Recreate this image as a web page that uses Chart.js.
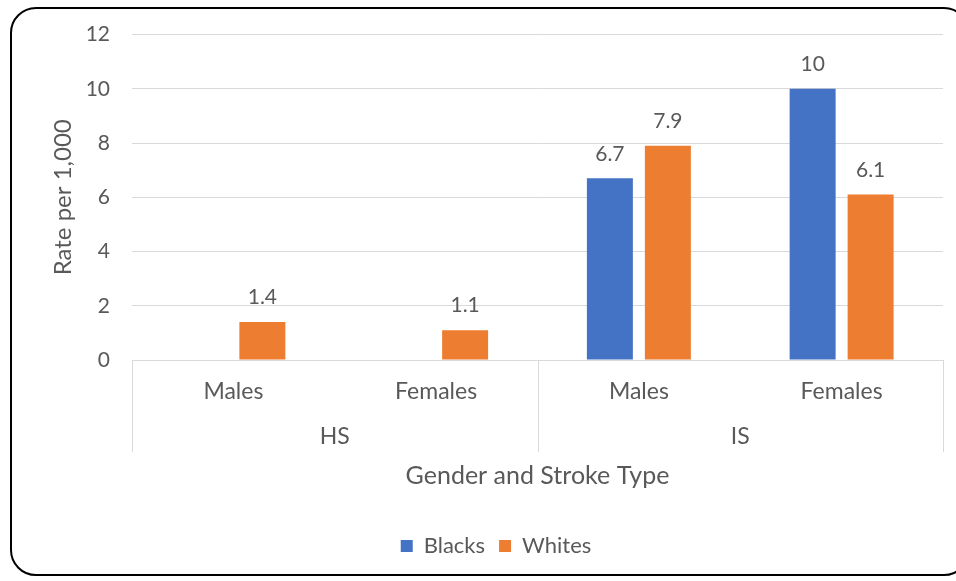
<!DOCTYPE html>
<html>
<head>
<meta charset="utf-8">
<script src="https://cdn.jsdelivr.net/npm/chart.js@4.4.1/dist/chart.umd.min.js"></script>
<style>
    html, body { margin: 0; padding: 0; background: #fff; }
    #frame {
        position: absolute; left: 10px; top: 7px; width: 960px; height: 569px;
        border: 2px solid #000; border-radius: 26px; box-sizing: border-box;
    }
    #wrap { position: absolute; left: 0; top: 0; width: 956px; height: 581px; }
</style>
</head>
<body>
<div id="frame"></div>
<div id="wrap"><canvas id="chart" width="956" height="581"></canvas></div>
<script>
// Chart data
const categories = ['Males', 'Females', 'Males', 'Females'];
const groups = ['HS', 'IS'];
const blacks = [null, null, 6.7, 10];
const whites = [1.4, 1.1, 7.9, 6.1];
const yTicks = [0, 2, 4, 6, 8, 10, 12];

const textColor = '#595959';
const fontFamily = 'Lato, "Liberation Sans", sans-serif';

// Draws value labels above bars
const barLabels = {
    id: 'barLabels',
    afterDatasetsDraw(chart) {
        const ctx = chart.ctx;
        ctx.save();
        ctx.font = `21px ${fontFamily}`;
        ctx.fillStyle = textColor;
        ctx.textAlign = 'center';
        ctx.textBaseline = 'bottom';
        chart.data.datasets.forEach((ds, i) => {
            chart.getDatasetMeta(i).data.forEach((bar, j) => {
                const v = ds.data[j];
                if (v === null || v === undefined) return;
                ctx.fillText(String(v), bar.x, bar.y - 14);
            });
        });
        ctx.restore();
    }
};

// Multi-level category axis: separators and group names
const groupAxis = {
    id: 'groupAxis',
    afterDraw(chart) {
        const ctx = chart.ctx;
        const x = chart.scales.x;
        const area = chart.chartArea;
        const per = categories.length / groups.length;
        const step = (x.right - x.left) / categories.length;
        ctx.save();
        ctx.strokeStyle = '#d9d9d9';
        ctx.lineWidth = 1;
        for (let g = 0; g <= groups.length; g++) {
            const px = Math.round(x.left + g * per * step) + 0.5;
            ctx.beginPath();
            ctx.moveTo(px, area.bottom);
            ctx.lineTo(px, area.bottom + 92);
            ctx.stroke();
        }
        ctx.font = `23px ${fontFamily}`;
        ctx.fillStyle = textColor;
        ctx.textAlign = 'center';
        ctx.textBaseline = 'middle';
        groups.forEach((name, g) => {
            const cx = x.left + (g + 0.5) * per * step;
            ctx.fillText(name, cx, area.bottom + 77);
        });
        ctx.restore();
    }
};

new Chart(document.getElementById('chart'), {
    type: 'bar',
    data: {
        labels: categories,
        datasets: [
            { label: 'Blacks', data: blacks, backgroundColor: '#4472C4' },
            { label: 'Whites', data: whites, backgroundColor: '#ED7D31' }
        ]
    },
    options: {
        responsive: false,
        animation: false,
        devicePixelRatio: 1,
        categoryPercentage: 0.572,
        barPercentage: 0.793,
        layout: { padding: { left: 49, right: 13, top: 27, bottom: 14 } },
        scales: {
            y: {
                min: 0, max: 12,
                afterBuildTicks: s => { s.ticks = yTicks.map(v => ({ value: v })); },
                afterFit: s => { s.width = 83; },
                border: { display: false },
                grid: { color: '#d9d9d9', drawTicks: false },
                ticks: { color: textColor, font: { family: fontFamily, size: 21 }, padding: 22 },
                title: {
                    display: true, text: 'Rate per 1,000', color: textColor,
                    font: { family: fontFamily, size: 24 }, padding: { top: 0, bottom: 0 }
                }
            },
            x: {
                afterFit: s => { s.height = 161; },
                border: { display: false },
                grid: { display: false, drawTicks: false },
                ticks: { color: textColor, font: { family: fontFamily, size: 23 }, padding: 18 },
                title: {
                    display: true, text: 'Gender and Stroke Type', color: textColor,
                    font: { family: fontFamily, size: 25 }, padding: { top: 4, bottom: 30 }
                }
            }
        },
        plugins: {
            legend: {
                position: 'bottom',
                labels: {
                    color: textColor, font: { family: fontFamily, size: 22 },
                    boxWidth: 12, boxHeight: 12, padding: 14
                }
            },
            tooltip: { enabled: false }
        }
    },
    plugins: [barLabels, groupAxis]
});
</script>
</body>
</html>
